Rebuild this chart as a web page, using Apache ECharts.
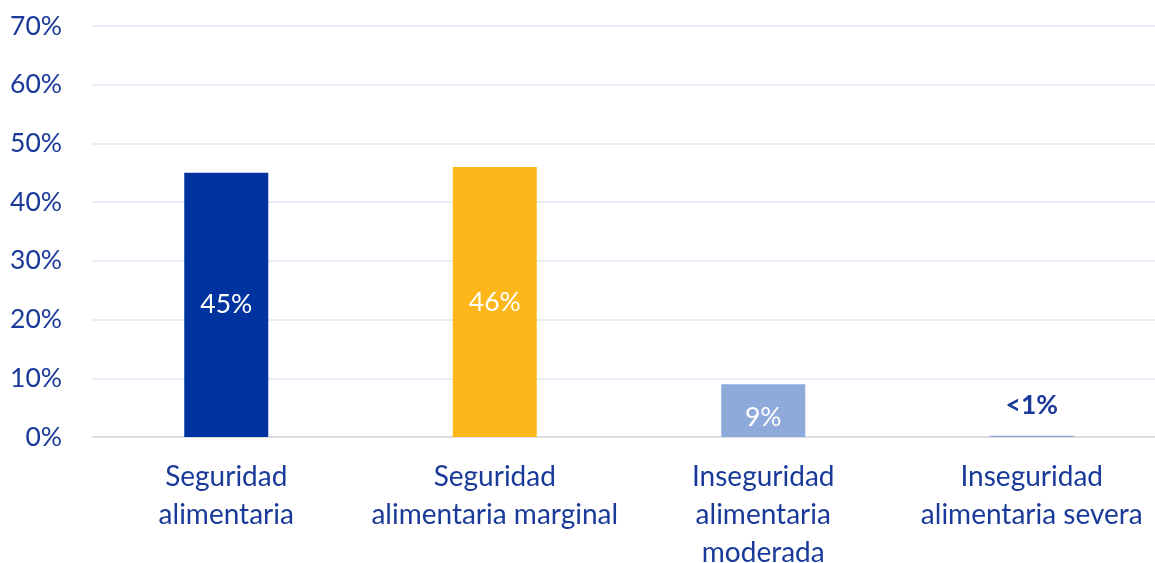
<!DOCTYPE html>
<html>
<head>
<meta charset="utf-8">
<script src="https://cdn.jsdelivr.net/npm/echarts@6/dist/echarts.min.js"></script>
<style>
  html, body { margin: 0; padding: 0; background: #fff; }
  #chart { width: 1155px; height: 563px; }
</style>
</head>
<body>
<div id="chart"></div>
<script>
// categorias y valores (%)
var categorias = ['Seguridad\nalimentaria', 'Seguridad\nalimentaria marginal', 'Inseguridad\nalimentaria\nmoderada', 'Inseguridad\nalimentaria severa'];
var valores = [45, 46, 9, 0.2];
var etiquetas = ['45%', '46%', '9%', '<1%'];
var colores = ['#0033a0', '#fdb71a', '#8eaadb', '#8eaadb'];

var textColor = '#1a3a9a';
var fuente = 'Lato, "Open Sans", sans-serif';

var datos = valores.map(function (v, i) {
  var lbl;
  if (i === 2) {
    lbl = { show: true, position: 'inside', offset: [0, 7], color: '#fff' };
  } else if (i === 3) {
    lbl = { show: true, position: 'top', distance: 17, color: textColor, fontWeight: 'bold' };
  } else {
    lbl = { show: true, position: 'inside', color: '#fff' };
  }
  return { value: v, itemStyle: { color: colores[i] }, label: lbl };
});

var myChart = echarts.init(document.getElementById('chart'));
myChart.setOption({
  animation: false,
  grid: { left: 92, top: 26, width: 1074, height: 411, outerBoundsMode: 'none', containLabel: false },
  xAxis: {
    type: 'category',
    data: categorias,
    axisLine: { lineStyle: { color: '#d9d9d9', width: 1.5 } },
    axisTick: { show: false },
    axisLabel: {
      color: textColor, fontSize: 28, fontFamily: fuente,
      lineHeight: 38, margin: 21, interval: 0
    }
  },
  yAxis: {
    type: 'value',
    min: 0, max: 70, interval: 10,
    axisLine: { show: false },
    axisTick: { show: false },
    splitLine: { lineStyle: { color: '#dde7f3', width: 1.5 } },
    axisLabel: {
      color: textColor, fontSize: 26.5, fontFamily: fuente, margin: 30,
      formatter: '{value}%'
    }
  },
  series: [{
    type: 'bar',
    barWidth: 84,
    data: datos,
    label: {
      fontSize: 26.5, fontFamily: fuente,
      formatter: function (p) { return etiquetas[p.dataIndex]; }
    }
  }]
});
</script>
</body>
</html>
